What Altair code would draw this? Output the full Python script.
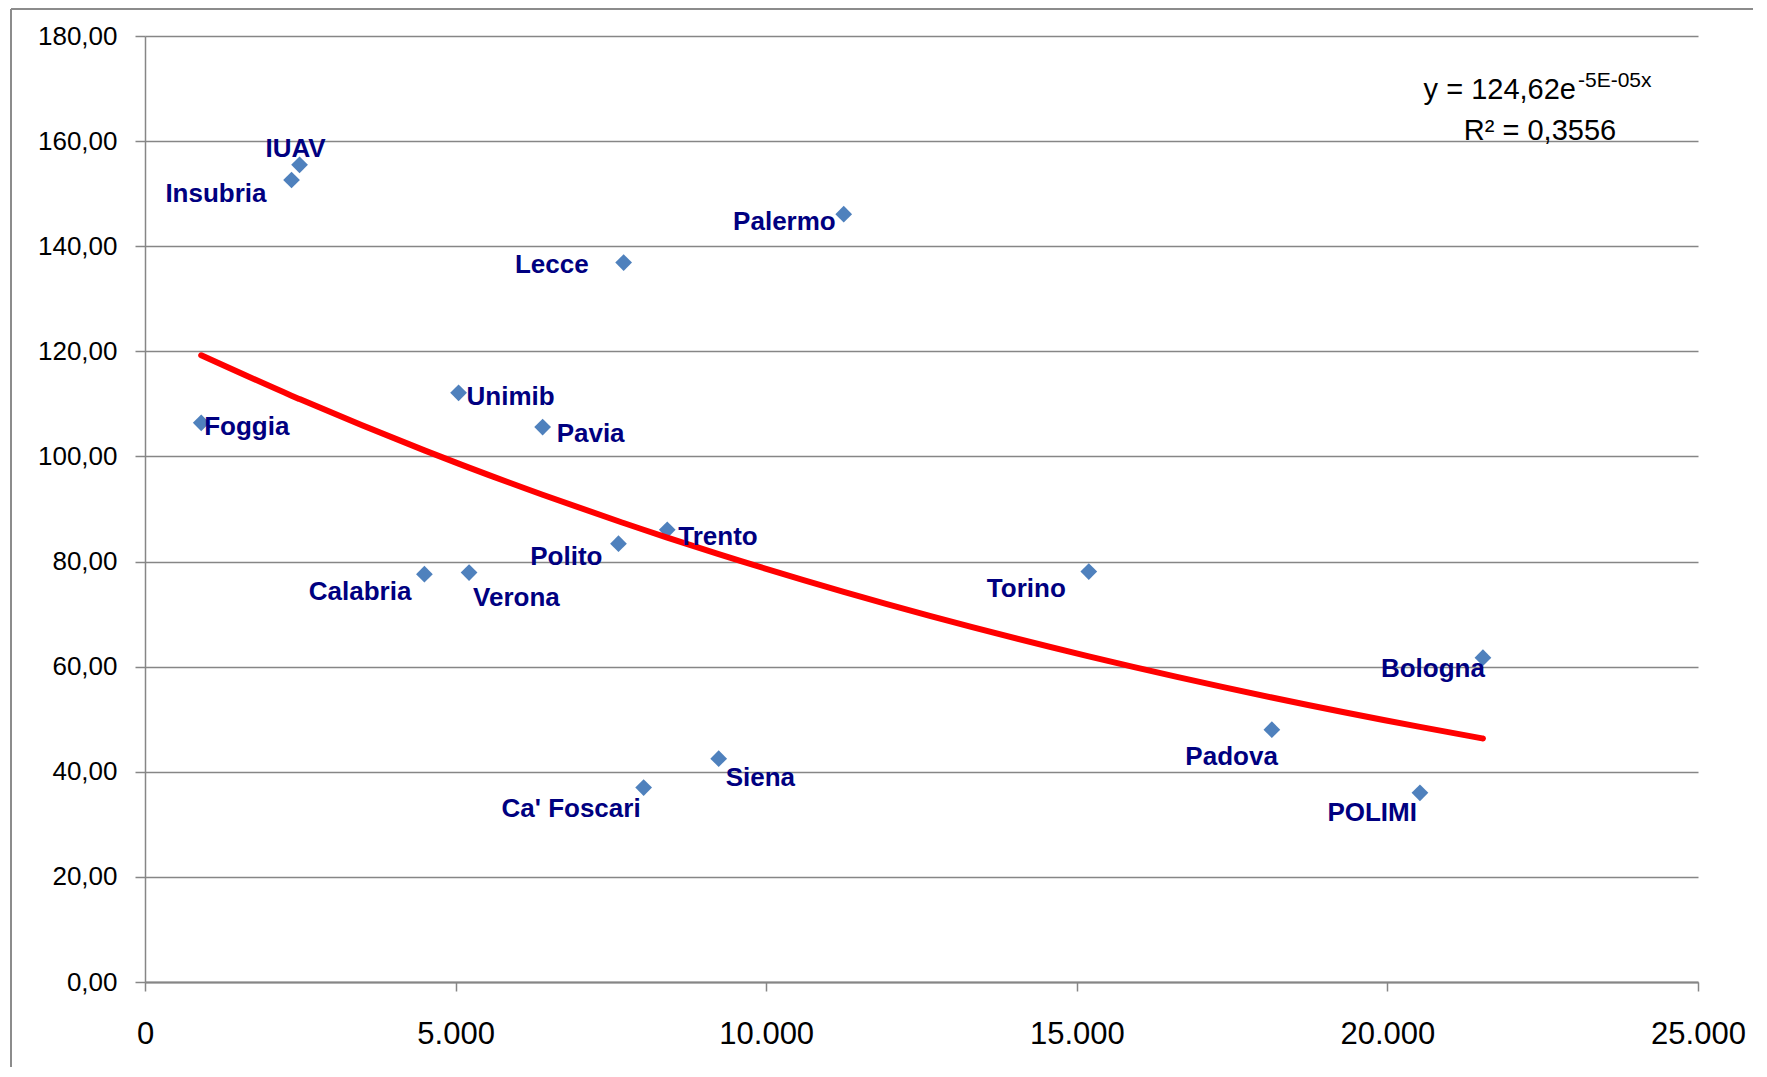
import altair as alt
import numpy as np
import pandas as pd

# ---- data ----
names = ["IUAV", "Insubria", "Palermo", "Lecce", "Unimib", "Foggia", "Pavia",
         "Trento", "Polito", "Torino", "Calabria", "Verona", "Bologna",
         "Padova", "Siena", "Ca' Foscari", "POLIMI"]
x_vals = [2488, 2359, 11248, 7705, 5048, 905, 6401, 8407, 7622, 15193,
          4498, 5217, 21538, 18140, 9235, 8027, 20524]
y_vals = [155.5, 152.6, 146.1, 136.9, 112.1, 106.4, 105.6, 86.05, 83.4,
          78.1, 77.6, 77.9, 61.7, 48.0, 42.5, 37.0, 36.0]

x_ticks = [0, 5000, 10000, 15000, 20000, 25000]
y_ticks = [0, 20, 40, 60, 80, 100, 120, 140, 160, 180]

eq_main = "y = 124,62e"
eq_exp = "-5E-05x"
r2_text = "R² = 0,3556"

# ---- label placement (layout only) ----
LABEL_LAYOUT = {
    "IUAV": ("center", -4, -8),
    "Insubria": ("right", -25, 22),
    "Palermo": ("right", -8, 16),
    "Lecce": ("right", -35, 10),
    "Unimib": ("left", 8, 12),
    "Foggia": ("left", 3, 12),
    "Pavia": ("left", 14, 15),
    "Trento": ("left", 11, 15),
    "Polito": ("right", -16, 21),
    "Torino": ("right", -23, 25),
    "Calabria": ("right", -13, 26),
    "Verona": ("left", 4, 33),
    "Bologna": ("right", 2, 19),
    "Padova": ("right", 6, 35),
    "Siena": ("left", 7, 27),
    "Ca' Foscari": ("right", -3, 29),
    "POLIMI": ("right", -3, 28),
}

df = pd.DataFrame({"name": names, "x": x_vals, "y": y_vals})

# Exponential trendline (least squares on ln y, as the spreadsheet does)
b, ln_a = np.polyfit(np.array(x_vals, float), np.log(np.array(y_vals, float)), 1)
xs = np.sort(np.array(x_vals, float))
trend_df = pd.DataFrame({"x": xs, "y": np.exp(ln_a + b * xs)})

GRAY = "#868686"
FONT = "Liberation Sans"

x_scale = alt.Scale(domain=[0, 25000], nice=False, zero=True)
y_scale = alt.Scale(domain=[0, 180], nice=False, zero=True)

x_axis = alt.Axis(
    values=x_ticks, title=None, grid=False,
    labelExpr="replace(format(datum.value, ','), ',', '.')",
    labelFont=FONT, labelFontSize=31, labelColor="#000000",
    labelPadding=28, labelFlush=False, labelOverlap=False,
    domainColor=GRAY, domainWidth=2, tickColor=GRAY, tickWidth=1.5, tickSize=9,
)
y_axis = alt.Axis(
    values=y_ticks, title=None, grid=True,
    labelExpr="replace(format(datum.value, '.2f'), '.', ',')",
    labelFont=FONT, labelFontSize=26, labelColor="#000000",
    labelPadding=18, labelOverlap=False,
    domainColor=GRAY, domainWidth=1.5, tickColor=GRAY, tickWidth=1.5, tickSize=10,
    gridColor=GRAY, gridWidth=1.5,
)

X = alt.X("x:Q", scale=x_scale, axis=x_axis)
Y = alt.Y("y:Q", scale=y_scale, axis=y_axis)

points = alt.Chart(df).mark_point(
    shape="diamond", filled=True, size=280, color="#4F81BD", opacity=1
).encode(x=X, y=Y)

trend = alt.Chart(trend_df).mark_line(
    color="#FF0000", strokeWidth=6, strokeCap="round", interpolate="monotone"
).encode(x=X, y=Y)

label_layers = []
for n in names:
    al, dx, dy = LABEL_LAYOUT[n]
    label_layers.append(
        alt.Chart(df).transform_filter(alt.datum.name == n).mark_text(
            align=al, baseline="alphabetic", dx=dx, dy=dy,
            font=FONT, fontSize=26, fontWeight="bold", color="#000080"
        ).encode(x=X, y=Y, text="name:N")
    )

one = pd.DataFrame({"k": [0]})
eq1 = alt.Chart(pd.DataFrame({"t": [eq_main]})).mark_text(
    align="right", baseline="alphabetic", font=FONT, fontSize=29, color="#000000"
).encode(x=alt.value(1431), y=alt.value(63), text="t:N")
eq2 = alt.Chart(pd.DataFrame({"t": [eq_exp]})).mark_text(
    align="left", baseline="alphabetic", font=FONT, fontSize=21, color="#000000"
).encode(x=alt.value(1433), y=alt.value(51), text="t:N")
eq3 = alt.Chart(pd.DataFrame({"t": [r2_text]})).mark_text(
    align="center", baseline="alphabetic", font=FONT, fontSize=29, color="#000000"
).encode(x=alt.value(1395), y=alt.value(104), text="t:N")

frame_left = alt.Chart(one).mark_rule(color="#8c8c8c", strokeWidth=2).encode(
    x=alt.value(-134), y=alt.value(-27), y2=alt.value(1200))
frame_top = alt.Chart(one).mark_rule(color="#8c8c8c", strokeWidth=2).encode(
    x=alt.value(-134), x2=alt.value(1800), y=alt.value(-27))

chart = alt.layer(
    points, trend, *label_layers, eq1, eq2, eq3, frame_left, frame_top
).properties(
    width=1553, height=946,
    autosize=alt.AutoSizeParams(type="none"),
    padding={"left": 137, "top": 28, "right": 55, "bottom": 85},
    background="#ffffff",
).configure_view(stroke=None)

chart.save("out.html", embed_options={"renderer": "svg", "actions": False})
